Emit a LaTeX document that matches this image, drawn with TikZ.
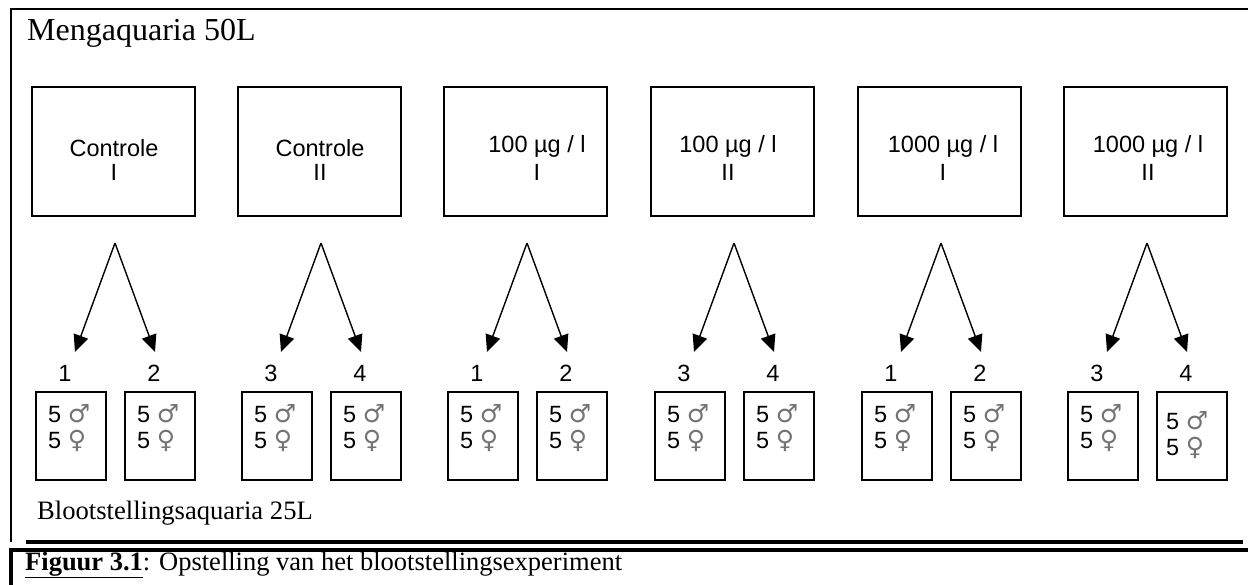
\documentclass[tikz,border=0pt]{standalone}
\usepackage{fontspec}
\setmainfont{Liberation Serif}
\newfontfamily\arial{Liberation Sans}
\newfontfamily\symf{DejaVu Sans}
\usetikzlibrary{arrows.meta}
\newcommand\sexsym[1]{{\symf\fontsize{25}{25}\selectfont\color{black!55}#1}}
\begin{document}
\begin{tikzpicture}[x=1pt,y=-1pt,
  bigbox/.style={draw, line width=1.8pt, minimum width=163pt, minimum height=129pt, inner sep=0pt, anchor=north west},
  smallbox/.style={draw, line width=1.6pt, minimum width=70pt, minimum height=88pt, inner sep=0pt, anchor=north west},
  conn/.style={line width=1.4pt, -{Triangle[length=17pt,width=15pt]}},
  num/.style={font=\arial\fontsize{23.5}{26}\selectfont, inner sep=0pt},
  cnt/.style={font=\arial\fontsize{23.5}{26}\selectfont, inner sep=0pt, anchor=base west},
  btxt/.style={font=\arial\fontsize{23.5}{23}\selectfont, inner sep=0pt, anchor=base},
  frame/.style={line width=2.6pt}
]
\useasboundingbox (0,0) rectangle (1248,585);
% frame
\draw[frame] (1249,9) -- (11,9) -- (11,542);
\draw[line width=4.3pt] (26,542) -- (1243,542);
\draw[line width=3.3pt] (1249,550) -- (11,550) -- (11,586);
% titles
\node[anchor=base west, inner sep=0pt, font=\fontsize{32}{36}\selectfont] (title) at (27,41) {Mengaquaria 50L};
\node[anchor=base west, inner sep=0pt, font=\fontsize{26.6}{30}\selectfont] (sub) at (37,519) {Blootstellingsaquaria 25L};
\node[anchor=base west, inner sep=0pt, font=\fontsize{26.5}{30}\selectfont] (caption) at (25,570) {{\bfseries\underline{Figuur 3.1}}: Opstelling van het blootstellingsexperiment};
% groups
\foreach \L [count=\i] in {31,237,443,650,857,1063} {
  \node[bigbox] (B\i) at (\L,86) {};
  \coordinate (apex\i) at (\L+84,243);
  \coordinate (tipl\i) at (\L+44,352);
  \coordinate (tipr\i) at (\L+124,352);
  \draw[conn] (apex\i) -- (tipl\i);
  \draw[conn] (apex\i) -- (tipr\i);
  \node[smallbox] (sl\i) at (\L+4,391) {};
  \node[smallbox] (sr\i) at (\L+93,391) {};
  \ifodd\i
    \node[num] (nl\i) at (\L+34,373) {1};
    \node[num] (nr\i) at (\L+123,373) {2};
  \else
    \node[num] (nl\i) at (\L+34,373) {3};
    \node[num] (nr\i) at (\L+123,373) {4};
  \fi
  \node[cnt] (cl\i) at (\L+17,422) {\begin{tabular}[t]{@{}l@{}}5 \sexsym{♂}\\5 \sexsym{♀}\end{tabular}};
}
\foreach \L [count=\i] in {31,237,443,650,857} {
  \node[cnt] (cr\i) at (\L+106,422) {\begin{tabular}[t]{@{}l@{}}5 \sexsym{♂}\\5 \sexsym{♀}\end{tabular}};
}
\node[cnt] (cr6) at (1063+103,429) {\begin{tabular}[t]{@{}l@{}}5 \sexsym{♂}\\5 \sexsym{♀}\end{tabular}};
% box texts
\node[btxt] (t1) at (114,157) {\begin{tabular}[t]{@{}c@{}}Controle\\I\end{tabular}};
\node[btxt] (t2) at (320,157) {\begin{tabular}[t]{@{}c@{}}Controle\\II\end{tabular}};
\node[btxt] (t3) at (537,153) {\begin{tabular}[t]{@{}c@{}}100 µg / l\\[4pt]I\end{tabular}};
\node[btxt] (t4) at (728,153) {\begin{tabular}[t]{@{}c@{}}100 µg / l\\[4pt]II\end{tabular}};
\node[btxt] (t5) at (943,153) {\begin{tabular}[t]{@{}c@{}}1000 µg / l\\[4pt]I\end{tabular}};
\node[btxt] (t6) at (1148,153) {\begin{tabular}[t]{@{}c@{}}1000 µg / l\\[4pt]II\end{tabular}};
\end{tikzpicture}
\end{document}
